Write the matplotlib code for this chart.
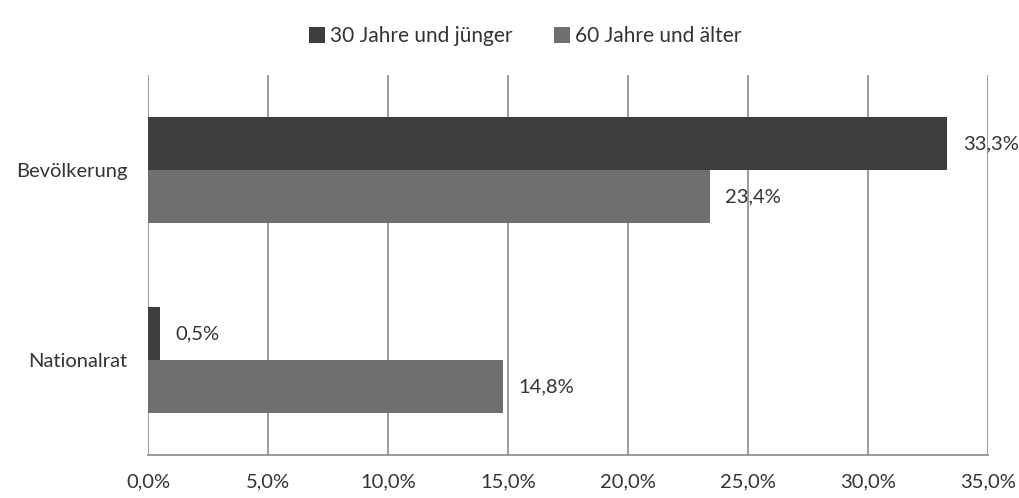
import matplotlib.pyplot as plt
import numpy as np

categories = ["Bevölkerung", "Nationalrat"]
series_names = ["30 Jahre und jünger", "60 Jahre und älter"]
young = [33.3, 0.5]
old = [23.4, 14.8]
xticks = [0, 5, 10, 15, 20, 25, 30, 35]

colors = ["#3d3d3d", "#6f6f6f"]

plt.rcParams['font.family'] = ['Lato', 'DejaVu Sans']


def pct(v):
    return f"{v:.1f}%".replace(".", ",")


fig = plt.figure(figsize=(10.19, 4.98), dpi=100)
ax = fig.add_axes([0.1452, 0.0863, 0.8244, 0.7631])

y = np.arange(len(categories)) + 0.5
h = 0.28
bars1 = ax.barh(y - h / 2, young, height=h, color=colors[0], label=series_names[0], zorder=3)
bars2 = ax.barh(y + h / 2, old, height=h, color=colors[1], label=series_names[1], zorder=3)

for bars, vals in [(bars1, young), (bars2, old)]:
    for b, v in zip(bars, vals):
        ax.text(v + 0.65, b.get_y() + b.get_height() / 2, pct(v),
                va='center', ha='left', fontsize=14.5, color='#333333', zorder=4)

ax.set_xlim(0, 35)
ax.set_ylim(2, 0)
ax.set_xticks(xticks)
ax.set_xticklabels([pct(t) for t in xticks], fontsize=14.5, color='#333333')
ax.set_yticks(y)
ax.set_yticklabels(categories, fontsize=14.5, color='#333333')
ax.tick_params(axis='x', length=0, pad=13)
ax.tick_params(axis='y', length=0, pad=15)

ax.grid(axis='x', color='#8a8a8a', linewidth=1.2, zorder=0)
for s in ['top', 'right', 'left']:
    ax.spines[s].set_visible(False)
ax.spines['bottom'].set_color('#8a8a8a')
ax.spines['bottom'].set_linewidth(1.2)

fig.legend(loc='upper center', bbox_to_anchor=(0.515, 0.985), ncol=2, frameon=False,
           fontsize=15, handlelength=0.8, handleheight=0.8, handletextpad=0.2,
           columnspacing=2.0, labelcolor='#333333')

plt.savefig("out.png", dpi=100)
plt.close()
